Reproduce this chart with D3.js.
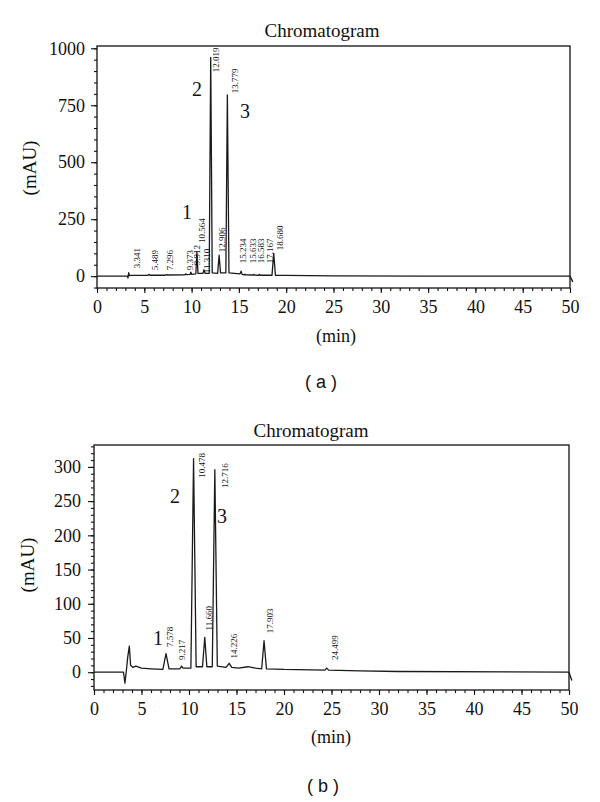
<!DOCTYPE html>
<html>
<head>
<meta charset="utf-8">
<script src="https://cdn.jsdelivr.net/npm/d3@7"></script>
<style>
  body { margin: 0; background: #fff; }
  svg text { font-family: "Liberation Serif", "Times New Roman", serif; fill: #111; }
</style>
</head>
<body>
<div id="canvas"></div>
<script>

// trace (a): [min, mAU]
var traceA = [
  [0, 0], [3.2, 0], [3.28, -8], [3.34, 15], [3.45, 2], [3.6, 3], [5.4, 4], [5.49, 8], [5.6, 4],
  [7.2, 4], [7.3, 7], [7.4, 5], [9.3, 6], [9.37, 10], [9.47, 7], [9.85, 8], [9.91, 18], [10.0, 8],
  [10.45, 10], [10.56, 105], [10.68, 12], [11.2, 12], [11.31, 28], [11.42, 12], [11.86, 12],
  [12.02, 960], [12.18, 14], [12.75, 12], [12.91, 92], [13.06, 14], [13.62, 14], [13.78, 795],
  [13.95, 14], [15.12, 10], [15.23, 22], [15.34, 8], [15.58, 6], [15.63, 9], [15.7, 6],
  [16.52, 5], [16.58, 8], [16.65, 5], [17.1, 4], [17.17, 8], [17.25, 4], [18.5, 4], [18.68, 100],
  [18.86, 4], [20, 3], [25, 1], [35, 0], [50, 0], [50.3, -25]
];
var labelsA = ["3.341", "5.489", "7.296", "9.373", "9.912", "10.564", "11.310", "12.019",
  "12.906", "13.779", "15.234", "15.633", "16.583", "17.167", "18.680"];
var labelTimeA = [4.55, 6.45, 8.03, 10.15, 10.89, 11.42, 11.95, 12.9, 13.53, 14.9, 15.75, 16.8, 17.65, 18.6, 19.66];
var labelLevelA = [35, 26, 26, 26, 48, 145, 13, 895, 105, 803, 57, 57, 57, 57, 114];
var peakNumA = ["1", "2", "3"];
var peakNumTimeA = [9.51, 10.57, 15.64];
var peakNumLevelA = [250, 789, 693];

// trace (b)
var traceB = [
  [0, 0], [3.1, 0], [3.26, -16], [3.42, 4], [3.55, 22], [3.72, 38], [3.85, 10], [4.1, 7],
  [4.4, 9], [5, 6], [6, 5], [7.25, 4], [7.58, 27], [7.9, 5], [9.05, 5], [9.22, 9], [9.38, 6],
  [10.2, 6], [10.48, 312], [10.75, 8], [11.42, 8], [11.66, 51], [11.88, 8], [12.45, 8],
  [12.72, 296], [12.98, 9], [13.9, 7], [14.23, 13], [14.5, 7], [15.2, 6], [16.2, 8], [17.0, 6],
  [17.65, 5], [17.9, 46], [18.15, 5], [20, 4], [24.3, 3], [24.5, 6], [24.7, 3], [28, 2],
  [32, 1], [50, 0], [50.3, -12]
];
var labelsB = ["7.578", "9.217", "10.478", "11.660", "12.716", "14.226", "17.903", "24.499"];
var labelTimeB = [8.32, 9.58, 11.68, 12.42, 14.1, 15.05, 18.84, 25.68];
var labelLevelB = [37, 18, 284, 61, 269, 20, 57, 18];
var peakNumB = ["1", "2", "3"];
var peakNumTimeB = [6.74, 8.53, 13.47];
var peakNumLevelB = [40, 247, 218];

var xTicks = d3.range(0, 51, 5);
var xMinor = d3.range(0, 51, 1);
var yTicksA = [0, 250, 500, 750, 1000];
var yMinorA = d3.range(-50, 1001, 50);
var yTicksB = [0, 50, 100, 150, 200, 250, 300];
var yMinorB = d3.range(-20, 331, 10);

var serif = "'Liberation Serif', 'Times New Roman', serif";

var svg = d3.select("#canvas").append("svg")
  .attr("width", 600).attr("height", 802);

function drawPanel(p) {
  var x = d3.scaleLinear().domain([0, 50]).range([p.left, p.right]);
  var y = d3.scaleLinear().domain(p.yDomain).range([p.bottom, p.top]);
  var g = svg.append("g");

  // minor + major ticks
  g.append("g").attr("transform", "translate(0," + p.bottom + ")")
    .call(d3.axisBottom(x).tickValues(xMinor).tickSize(3).tickFormat(""));
  g.append("g").attr("transform", "translate(0," + p.bottom + ")")
    .call(d3.axisBottom(x).tickValues(xTicks).tickSize(5).tickPadding(7).tickFormat(d3.format("d")));
  g.append("g").attr("transform", "translate(" + p.left + ",0)")
    .call(d3.axisLeft(y).tickValues(p.yMinor).tickSize(3).tickFormat(""));
  g.append("g").attr("transform", "translate(" + p.left + ",0)")
    .call(d3.axisLeft(y).tickValues(p.yTicks).tickSize(6).tickPadding(p.ypad).tickFormat(d3.format("d")));
  g.selectAll(".domain").remove();
  g.selectAll("g").attr("font-family", serif).attr("font-size", 18);
  g.selectAll(".tick line").attr("stroke", "#111").attr("stroke-width", 1.1);
  g.selectAll(".tick text").attr("fill", "#111")
    .style("font-family", serif).style("font-size", "18px");

  // frame
  g.append("rect")
    .attr("x", p.left).attr("y", p.top)
    .attr("width", p.right - p.left).attr("height", p.bottom - p.top)
    .attr("fill", "none").attr("stroke", "#111").attr("stroke-width", 1.3);

  // trace
  var line = d3.line().x(function(d) { return x(d[0]); }).y(function(d) { return y(d[1]); });
  g.append("path").datum(p.trace)
    .attr("d", line).attr("fill", "none")
    .attr("stroke", "#1a1a1a").attr("stroke-width", 1.3).attr("stroke-linejoin", "round");

  // retention-time labels
  p.labels.forEach(function(lab, i) {
    var lx = x(p.labelTime[i]), ly = y(p.labelLevel[i]);
    g.append("text").text(lab)
      .attr("transform", "translate(" + lx + "," + ly + ") rotate(-90)")
      .style("font-size", "9px").attr("fill", "#333");
  });

  // peak numbers
  p.nums.forEach(function(n, i) {
    g.append("text").text(n)
      .attr("x", x(p.numTime[i])).attr("y", y(p.numLevel[i]))
      .attr("text-anchor", "middle").style("font-size", "20px");
  });

  g.append("text").text("Chromatogram")
    .attr("x", p.titleX).attr("y", p.titleY).attr("text-anchor", "middle").style("font-size", "19px");
  g.append("text").text("(min)")
    .attr("x", p.minX).attr("y", p.minY).attr("text-anchor", "middle").style("font-size", "18px");
  g.append("text").text("(mAU)")
    .attr("transform", "translate(" + p.mauX + "," + p.mauY + ") rotate(-90)")
    .attr("text-anchor", "middle").style("font-size", "19px");
  g.append("text").text(p.tag)
    .attr("x", p.tagX).attr("y", p.tagY).attr("text-anchor", "middle")
    .style("font-family", "'Liberation Sans', Arial, sans-serif").style("font-size", "18px");
}

drawPanel({
  left: 97, right: 570, top: 46, bottom: 288, yDomain: [-52, 1010],
  yTicks: yTicksA, yMinor: yMinorA, ypad: 6,
  trace: traceA, labels: labelsA, labelTime: labelTimeA, labelLevel: labelLevelA,
  nums: peakNumA, numTime: peakNumTimeA, numLevel: peakNumLevelA,
  titleX: 322, titleY: 37, minX: 336, minY: 342, mauX: 36, mauY: 168,
  tag: "( a )", tagX: 321, tagY: 388
});

drawPanel({
  left: 94, right: 569, top: 445, bottom: 690, yDomain: [-26, 332],
  yTicks: yTicksB, yMinor: yMinorB, ypad: 7,
  trace: traceB, labels: labelsB, labelTime: labelTimeB, labelLevel: labelLevelB,
  nums: peakNumB, numTime: peakNumTimeB, numLevel: peakNumLevelB,
  titleX: 311, titleY: 437, minX: 331, minY: 743, mauX: 34, mauY: 565,
  tag: "( b )", tagX: 323, tagY: 792
});
</script>
</body>
</html>
